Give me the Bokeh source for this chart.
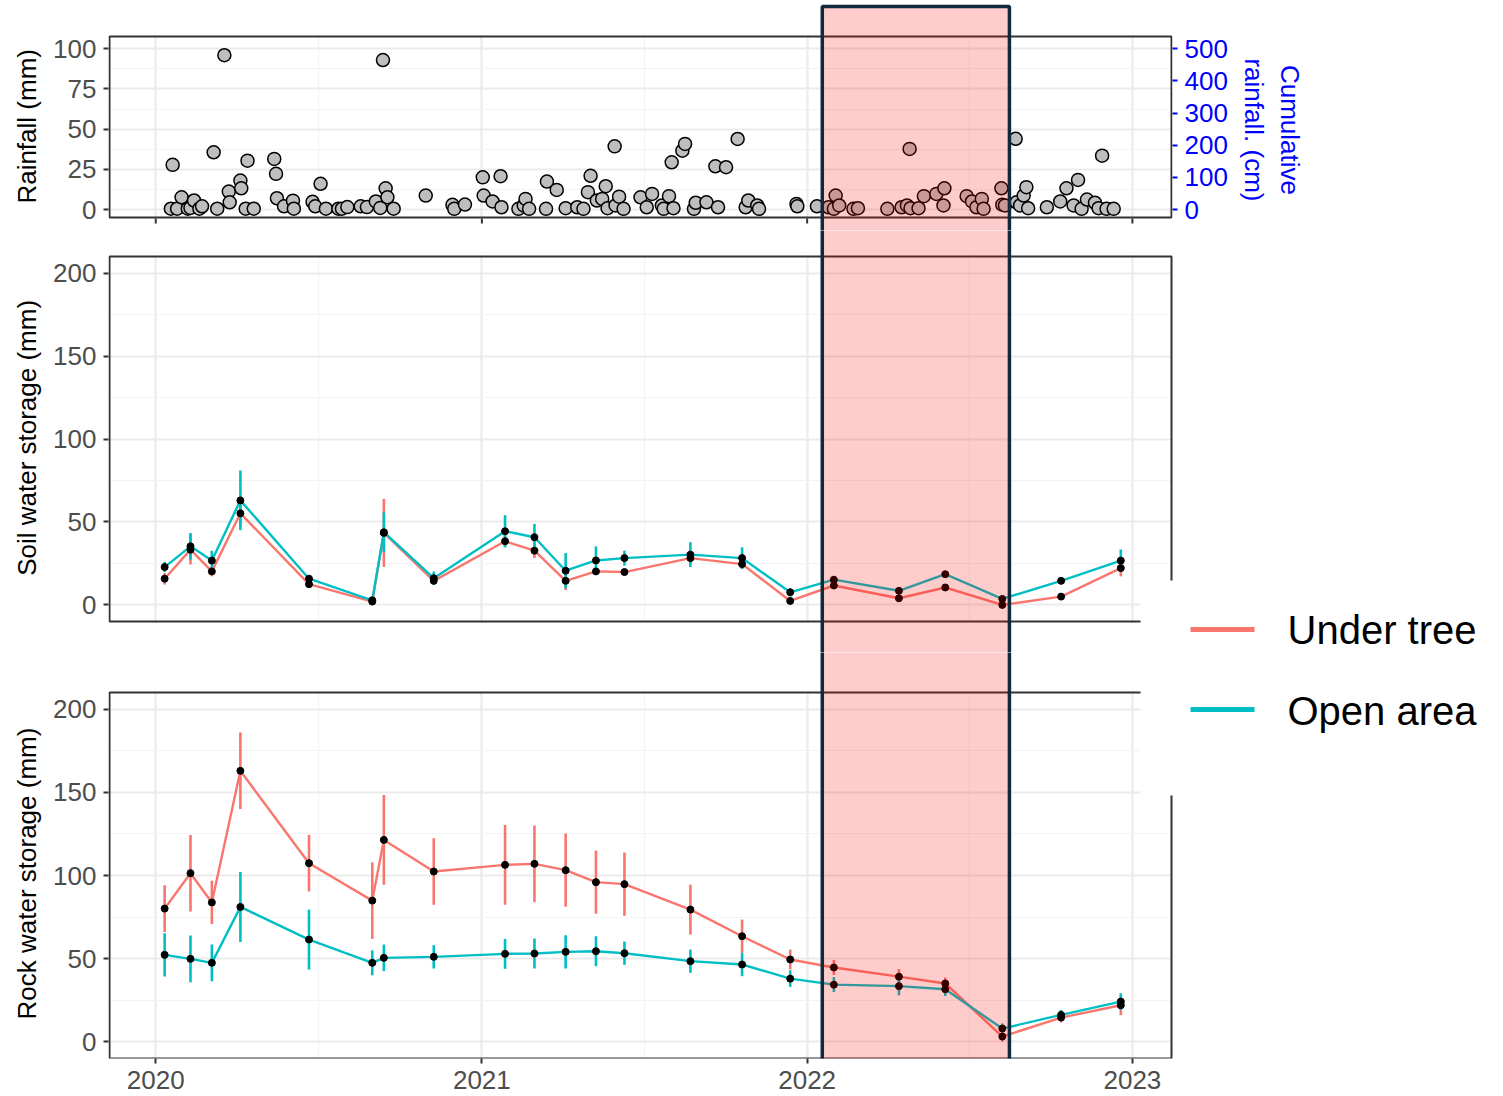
import pandas as pd
from bokeh.plotting import figure
from bokeh.models import (ColumnDataSource, Range1d, LinearAxis, FixedTicker,
                          BoxAnnotation, Label, DatetimeTickFormatter)
from bokeh.embed import file_html
from bokeh.resources import INLINE

# ---------------- data ----------------
rain_origin = "2020-01-01"
rain_day = [17, 19, 24, 29, 36, 39, 43, 49, 52, 65, 69, 77, 82, 83, 95, 96, 101, 103, 110,
            133, 135, 136, 144, 154, 155, 176, 179, 185, 191, 205, 209, 215, 230, 237, 247,
            252, 255, 258, 260, 267, 303, 333, 335, 347, 367, 368, 378, 387, 388, 407, 413,
            415, 419, 438, 439, 450, 460, 473, 480, 485, 488, 495, 501, 505, 507, 515, 516,
            520, 525, 544, 551, 557, 568, 570, 576, 579, 581, 591, 594, 604, 606, 618, 628,
            631, 640, 653, 662, 665, 675, 677, 719, 720, 742, 755, 761, 763, 767, 783, 788,
            821, 837, 843, 846, 847, 856, 862, 876, 884, 885, 910, 916, 921, 927, 929, 949,
            950, 953, 965, 966, 970, 974, 977, 979, 1000, 1015, 1022, 1030, 1035, 1039, 1045,
            1054, 1058, 1062, 1067, 1075]
rain_mm = [0.5, 27.8, 0.5, 7.6, 0.5, 1.0, 5.6, 0.5, 2.0, 35.6, 0.5, 96.0, 11.2, 4.5, 18.0, 13.2, 0.5, 30.4, 0.5,
           31.5, 22.2, 7.0, 2.0, 5.5, 0.5, 4.8, 2.0, 16.0, 0.5, 0.5, 0.5, 1.5, 2.0, 1.5, 5.0,
           1.0, 93.0, 13.2, 7.6, 0.5, 8.7, 2.9, 0.4, 3.1, 20.0, 8.7, 5.0, 20.7, 1.4, 0.4, 2.5,
           6.6, 0.4, 0.4, 17.4, 12.2, 0.8, 1.4, 0.4, 10.8, 21.0, 5.6, 6.6, 14.5, 0.8, 39.3, 2.5,
           8.0, 0.4, 7.6, 1.4, 9.7, 2.5, 0.4, 8.3, 29.4, 0.8, 36.6, 40.8, 0.4, 4.2, 4.5, 26.9,
           1.4, 26.3, 43.9, 1.4, 5.6, 2.5, 0.4, 3.5, 2.0, 2.0, 1.4, 0.4, 8.7, 2.5, 0.4, 0.8,
           0.4, 1.4, 2.5, 37.7, 0.8, 0.8, 8.3, 9.7, 2.5, 13.2, 8.3, 5.0, 1.4, 6.6, 0.4, 13.2,
           3.0, 2.5, 44.0, 4.5, 2.5, 8.7, 13.9, 0.8, 1.4, 5.0, 13.2, 2.5, 18.4, 0.4, 6.2,
           4.2, 0.8, 33.5, 0.4, 0.4]

meas_date = ["2020-01-11", "2020-02-09", "2020-03-04", "2020-04-05", "2020-06-21", "2020-08-31",
             "2020-09-13", "2020-11-08", "2021-01-27", "2021-03-01", "2021-04-05", "2021-05-09",
             "2021-06-10", "2021-08-23", "2021-10-20", "2021-12-13", "2022-01-31", "2022-04-14",
             "2022-06-05", "2022-08-08", "2022-10-13", "2022-12-19"]
soil_tree = [15.8, 33.3, 20.2, 55.2, 12.5, 2.0, 43.4, 14.5, 38.4, 32.7, 14.5, 20.2,
             19.8, 28.2, 24.6, 2.4, 11.7, 4.0, 10.5, 0.0, 5.0, 22.2]
soil_tree_err = [3.5, 9, 3, 8, 2, 2, 20.5, 2, 3.6, 4.5, 5.5, 2, 2, 3, 3, 2, 2, 2, 2, 2, 2, 5]
soil_open = [22.8, 35.3, 26.7, 63.0, 15.8, 2.8, 43.8, 16.1, 44.4, 40.8, 20.6, 26.8,
             28.2, 30.3, 28.2, 7.6, 15.2, 8.5, 18.5, 3.6, 14.5, 26.7]
soil_open_err = [3, 8, 6, 18, 2, 2, 12, 4, 9.7, 8, 10.7, 8.5, 4.5, 7.5, 6.5, 2.5, 2, 2, 2, 2, 2, 6.7]
rock_tree = [80.1, 101.4, 83.8, 162.9, 107.4, 84.9, 121.4, 102.4, 106.4, 107.0, 103.2, 96.0,
             94.8, 79.5, 63.5, 49.5, 44.7, 39.2, 35.1, 3.2, 14.6, 22.0]
rock_tree_err = [14, 23, 13, 23, 17, 23, 27, 20, 24, 23, 22, 19, 19, 15, 10, 6, 4.5, 4.5, 3.5, 3, 3, 6]
rock_open = [52.3, 49.9, 47.5, 81.1, 61.5, 47.5, 50.5, 51.1, 52.9, 53.1, 54.1, 54.5,
             53.3, 48.5, 46.5, 38.0, 34.4, 33.5, 31.6, 8.0, 16.2, 24.2]
rock_open_err = [13, 14, 11, 21, 18, 7.5, 8, 7, 9, 9, 10, 9, 7, 7, 7, 5, 4.5, 5.5, 4, 3, 3, 5]

series_names = ["Under tree", "Open area"]
drought_start, drought_end = "2022-01-18", "2022-08-16"
x_start, x_end = "2019-11-09", "2023-02-15"
year_ticks = ["2020-01-01", "2021-01-01", "2022-01-01", "2023-01-01"]
mid_year_ticks = ["2020-07-02", "2021-07-02", "2022-07-02"]
cum_factor = 5
rain_ticks, rain_minor = [0, 25, 50, 75, 100], [12.5, 37.5, 62.5, 87.5]
cum_ticks = [0, 100, 200, 300, 400, 500]
stor_lim = (-10, 210)
stor_ticks, stor_minor = [0, 50, 100, 150, 200], [25, 75, 125, 175]

# ---------------- layout (page pixels) ----------------
RED, TEAL = "#F8766D", "#00BFC4"
BORDER = "#333333"
FONT = "Liberation Sans"
NB = "\u00a0"
W = 1490
PX0, PX1 = 108, 1172            # panel left / right edge
P1 = (0, 230, 36, 217)          # canvas top, canvas bottom, panel top, panel bottom
P2 = (230, 652, 256, 621)
P3 = (652, 1096, 692, 1058)
RAIN0_Y, RAIN100_Y = 209, 48.3  # pixel rows of 0 mm and 100 mm


def ms(s):
    return pd.Timestamp(s).value / 1e6


def yrange(lim, panel_top, panel_bot, frame_top, frame_bot):
    k = (lim[1] - lim[0]) / (panel_bot - panel_top)
    return Range1d(lim[0] - (frame_bot - panel_bot) * k, lim[1] + (panel_top - frame_top) * k)


x0, x1 = ms(x_start), ms(x_end)
x_wide = x1 + (W - PX1) * (x1 - x0) / (PX1 - PX0)
xticker = FixedTicker(ticks=[ms(t) for t in year_ticks], minor_ticks=[ms(t) for t in mid_year_ticks])
xfmt = DatetimeTickFormatter(years="%Y", months="%Y", days="%Y", hours="%Y")


def box(p, l, r, t, b, **kw):
    p.add_layout(BoxAnnotation(left=l, right=r, top=t, bottom=b, left_units="canvas",
                               right_units="canvas", top_units="canvas", bottom_units="canvas", **kw))


def white(p, l, r, t, b):
    box(p, l, r, t, b, fill_color="white", fill_alpha=1, line_color=None)


def make_fig(geom, frame_bottom, xr, yr, ylabel, yticks, yminor, right_border):
    top, bot = geom[0], geom[1]
    p = figure(width=W, height=bot - top, x_range=xr, y_range=yr, x_axis_type="datetime",
               output_backend="svg", toolbar_location=None, min_border=0,
               min_border_left=PX0, min_border_right=right_border,
               min_border_top=0, min_border_bottom=bot - frame_bottom)
    p.background_fill_color = "white"
    p.border_fill_color = "white"
    p.outline_line_color = None
    yt = FixedTicker(ticks=yticks, minor_ticks=yminor)
    p.yaxis.ticker = yt
    p.ygrid.ticker = yt
    p.xaxis.ticker = xticker
    p.xgrid.ticker = xticker
    p.xaxis.formatter = xfmt
    p.xaxis.axis_label = None
    for g in (p.xgrid, p.ygrid):
        g.grid_line_color = "#EBEBEB"
        g.grid_line_width = 2.2
        g.minor_grid_line_color = "#F3F3F3"
        g.minor_grid_line_width = 1.2
    for ax in (p.xaxis, p.yaxis):
        ax.axis_line_color = None
        ax.major_tick_line_color = BORDER
        ax.major_tick_line_width = 2
        ax.major_tick_out = 5
        ax.major_tick_in = 0
        ax.minor_tick_line_color = None
        ax.major_label_text_font = FONT
        ax.major_label_text_font_size = "26px"
        ax.major_label_text_color = "#4D4D4D"
        ax.major_label_standoff = 7
        ax.axis_label_text_font = FONT
        ax.axis_label_text_font_size = "26px"
        ax.axis_label_text_font_style = "normal"
        ax.axis_label_text_color = "black"
    p.yaxis.axis_label = ylabel
    p.yaxis.axis_label_standoff = 8
    return p


def drought(p, top):
    p.add_layout(BoxAnnotation(left=ms(drought_start), right=ms(drought_end),
                               top=top, top_units="canvas", bottom=2000, bottom_units="canvas",
                               fill_color="red", fill_alpha=0.2,
                               line_color="#0F2A3A", line_width=3.5, line_alpha=1))


def panel_border(p, geom):
    top = geom[0]
    box(p, PX0 + 1, PX1 - 1, geom[2] - top, geom[3] - top, fill_alpha=0,
        line_color=BORDER, line_width=2, line_alpha=1)


def legend_entry(p, geom, name, color, cy, baseline):
    top = geom[0]
    box(p, 1190, 1254, cy - top - 2.5, cy - top + 2.5, fill_color=color, fill_alpha=1, line_color=None)
    p.add_layout(Label(x=1287, y=baseline - top, x_units="canvas", y_units="canvas", text=name,
                       text_font=FONT, text_font_size="40px", text_color="black",
                       text_align="left", text_baseline="alphabetic"))


# ---------------- rainfall panel ----------------
rain_src = ColumnDataSource(dict(date=pd.Timestamp(rain_origin) + pd.to_timedelta(rain_day, unit="D"),
                                 mm=rain_mm))
k1 = 100 / (RAIN0_Y - RAIN100_Y)
rain_range = Range1d(-(P1[1] - RAIN0_Y) * k1, 100 + (RAIN100_Y - P1[0]) * k1)
p1 = make_fig(P1, P1[1], Range1d(x0, x1), rain_range,
              "Rainfall (mm)" + NB * 3, rain_ticks, rain_minor, W - PX1)
p1.xaxis.visible = False
p1.extra_y_ranges = {"cum": Range1d(rain_range.start * cum_factor, rain_range.end * cum_factor)}
rax = LinearAxis(y_range_name="cum", ticker=FixedTicker(ticks=cum_ticks),
                 axis_label=NB * 4 + "Cumulative\n" + NB * 4 + "rainfall. (cm)")
rax.axis_line_color = None
rax.major_tick_line_color = "#0000FF"
rax.major_tick_line_width = 2
rax.major_tick_out = 5
rax.major_tick_in = 0
rax.minor_tick_line_color = None
rax.major_label_text_font = FONT
rax.major_label_text_font_size = "26px"
rax.major_label_text_color = "#0000FF"
rax.major_label_standoff = 7
rax.axis_label_text_font = FONT
rax.axis_label_text_font_size = "26px"
rax.axis_label_text_font_style = "normal"
rax.axis_label_text_color = "#0000FF"
rax.axis_label_standoff = 8
p1.add_layout(rax, "right")
p1.scatter(x="date", y="mm", source=rain_src, size=13, fill_color="#BEBEBE",
           line_color="black", line_width=1.5)
white(p1, PX0, PX1, -5, P1[2] - 1)
white(p1, PX0, PX1, P1[3] + 1, 400)
panel_border(p1, P1)
for t in year_ticks:
    p1.add_layout(BoxAnnotation(left=ms(t), right=ms(t), top=P1[3] + 1, top_units="canvas",
                                bottom=P1[3] + 6, bottom_units="canvas", fill_alpha=0,
                                line_color=BORDER, line_width=2, line_alpha=1))
drought(p1, 6)


# ---------------- storage panels ----------------
def storage_src(tree, tree_err, open_, open_err):
    d = pd.to_datetime(meas_date)
    return (ColumnDataSource(dict(date=d, v=tree, lo=[a - b for a, b in zip(tree, tree_err)],
                                  hi=[a + b for a, b in zip(tree, tree_err)])),
            ColumnDataSource(dict(date=d, v=open_, lo=[a - b for a, b in zip(open_, open_err)],
                                  hi=[a + b for a, b in zip(open_, open_err)])))


def draw_storage(p, tree_src, open_src):
    p.segment(x0="date", y0="lo", x1="date", y1="hi", source=tree_src, line_color=RED, line_width=2.6)
    p.segment(x0="date", y0="lo", x1="date", y1="hi", source=open_src, line_color=TEAL, line_width=2.6)
    p.line(x="date", y="v", source=tree_src, line_color=RED, line_width=2.4)
    p.line(x="date", y="v", source=open_src, line_color=TEAL, line_width=2.4)
    p.scatter(x="date", y="v", source=tree_src, size=7, color="black")
    p.scatter(x="date", y="v", source=open_src, size=7, color="black")


# soil: -10 at the panel bottom row, 210 at the panel top row
p2 = make_fig(P2, P2[1], Range1d(x0, x_wide), yrange(stor_lim, P2[2], P2[3], P2[0], P2[1]),
              NB + "Soil water storage (mm)", stor_ticks, stor_minor, 0)
p2.xaxis.visible = False
s_tree, s_open = storage_src(soil_tree, soil_tree_err, soil_open, soil_open_err)
draw_storage(p2, s_tree, s_open)
h2 = P2[1] - P2[0]
white(p2, PX0, W + 10, -5, P2[2] - P2[0] - 1)
white(p2, PX0, W + 10, P2[3] - P2[0] + 1, h2 + 10)
white(p2, PX1, W + 10, -5, h2 + 10)
panel_border(p2, P2)
drought(p2, -20)
white(p2, 1140, W + 10, 580 - P2[0], h2 + 10)
legend_entry(p2, P2, series_names[0], RED, 629, 629)

# rock: -10 at the panel bottom row, 210 at the panel top row
p3 = make_fig(P3, P3[3], Range1d(x0, x_wide), yrange(stor_lim, P3[2], P3[3], P3[0], P3[3]),
              "Rock water storage (mm)" + NB * 5, stor_ticks, stor_minor, 0)
r_tree, r_open = storage_src(rock_tree, rock_tree_err, rock_open, rock_open_err)
draw_storage(p3, r_tree, r_open)
h3 = P3[1] - P3[0]
white(p3, PX0, W + 10, -5, P3[2] - P3[0] - 1)
white(p3, PX1, W + 10, -5, h3 + 10)
panel_border(p3, P3)
drought(p3, -20)
white(p3, 1140, W + 10, -5, 795 - P3[0])
legend_entry(p3, P3, series_names[1], TEAL, 709, 710)

open("out.html", "w").write(file_html([p1, p2, p3], INLINE))
